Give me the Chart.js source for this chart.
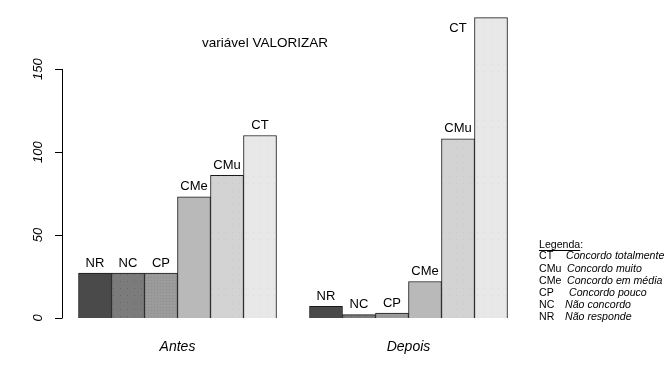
<!DOCTYPE html>
<html>
<head>
<meta charset="utf-8">
<script src="https://cdn.jsdelivr.net/npm/chart.js@4"></script>
<style>
  html, body { margin: 0; padding: 0; background: #fff; }
  #wrap { width: 669px; height: 377px; }
</style>
</head>
<body>
<div id="wrap"><canvas id="chart" width="669" height="377"></canvas></div>
<script>
// data
const categories = ['NR', 'NC', 'CP', 'CMe', 'CMu', 'CT'];
const groups = ['Antes', 'Depois'];
const antes = [27, 27, 27, 73, 86, 110];
const depois = [7, 2, 3, 22, 108, 181];
const yTicks = [0, 50, 100, 150];
const legendCodes = ['CT', 'CMu', 'CMe', 'CP', 'NC', 'NR'];
const legendText = ['Concordo totalmente', 'Concordo muito', 'Concordo em média', 'Concordo pouco', 'Não concordo', 'Não responde'];

const greys = ['#4a4a4a', '#7b7b7b', '#9b9b9b', '#b9b9b9', '#d3d3d3', '#e8e8e8'];
const FONT = '"Liberation Sans", Arial, sans-serif';

// light stipple like the R output
function dotted(base, dot, step) {
  const c = document.createElement('canvas');
  c.width = step; c.height = step;
  const g = c.getContext('2d');
  g.fillStyle = base; g.fillRect(0, 0, step, step);
  g.fillStyle = dot; g.fillRect(1, 1, 1, 1);
  return g.createPattern(c, 'repeat');
}
const ctx = document.getElementById('chart').getContext('2d');
const fills = [
  greys[0],
  dotted(greys[1], '#666666', 7),
  dotted(greys[2], '#8e8e8e', 3),
  greys[3],
  dotted(greys[4], '#c8c8c8', 7),
  dotted(greys[5], '#dcdcdc', 7)
];

// bar slots: group 1 at 0..5, gap, group 2 at 7..12
const points = [];
const colors = [];
const names = [];
antes.forEach((v, i) => { points.push({x: i, y: v}); colors.push(fills[i]); names.push(categories[i]); });
depois.forEach((v, i) => { points.push({x: i + 7, y: v}); colors.push(fills[i]); names.push(categories[i]); });

const decor = {
  id: 'decor',
  afterDatasetsDraw(chart) {
    const c = chart.ctx;
    const xs = chart.scales.x, ys = chart.scales.y;
    const area = chart.chartArea;
    c.save();
    c.fillStyle = '#000';
    c.strokeStyle = '#000';

    // labels over bars
    c.font = '13px ' + FONT;
    c.textAlign = 'center';
    c.textBaseline = 'middle';
    chart.getDatasetMeta(0).data.forEach((el, i) => {
      let lx = el.x, ly = el.y - 10;
      if (ly < area.top + 20) { lx = el.x - 33; ly = el.y + 11; }
      c.fillText(names[i], lx, ly);
    });

    // y axis
    const ax = area.left;
    c.lineWidth = 1;
    c.beginPath();
    c.moveTo(ax + 0.5, ys.getPixelForValue(yTicks[0]));
    c.lineTo(ax + 0.5, ys.getPixelForValue(yTicks[yTicks.length - 1]));
    yTicks.forEach(t => {
      const py = Math.round(ys.getPixelForValue(t)) + 0.5;
      c.moveTo(ax + 0.5, py);
      c.lineTo(ax - 7, py);
    });
    c.stroke();
    c.font = 'italic 13px ' + FONT;
    yTicks.forEach(t => {
      c.save();
      c.translate(ax - 24, ys.getPixelForValue(t));
      c.rotate(-Math.PI / 2);
      c.fillText(String(t), 0, 0);
      c.restore();
    });

    // group names
    c.font = 'italic 14px ' + FONT;
    c.fillText(groups[0], xs.getPixelForValue(2.5), 347);
    c.fillText(groups[1], xs.getPixelForValue(9.5), 347);

    // title
    c.font = '13.5px ' + FONT;
    c.fillText('variável VALORIZAR', 265, 43);

    // legend
    c.textAlign = 'left';
    c.font = '10.6px ' + FONT;
    c.fillText('Legenda:', 539, 245);
    const w = c.measureText('Legenda').width;
    c.beginPath();
    c.moveTo(539, 250.5);
    c.lineTo(539 + w, 250.5);
    c.stroke();
    const descX = [566, 567, 567, 569, 565, 565];
    legendCodes.forEach((code, i) => {
      const ly = 256.5 + i * 12.1;
      c.font = '10.6px ' + FONT;
      c.fillText(code, 539, ly);
      c.font = 'italic 10.6px ' + FONT;
      c.fillText(legendText[i], descX[i], ly);
    });
    c.restore();
  }
};

new Chart(ctx, {
  type: 'bar',
  data: {
    datasets: [{
      data: points,
      backgroundColor: colors,
      borderColor: '#1a1a1a',
      borderWidth: 1,
      barPercentage: 1,
      categoryPercentage: 1
    }]
  },
  options: {
    responsive: false,
    animation: false,
    layout: { padding: { left: 62, right: 145, top: 11, bottom: 59 } },
    plugins: { legend: { display: false }, tooltip: { enabled: false } },
    scales: {
      x: { type: 'linear', min: -1, max: 13, offset: false, display: false, ticks: { stepSize: 1 }, grid: { display: false } },
      y: { min: 0, max: 185, display: false, grid: { display: false } }
    }
  },
  plugins: [decor]
});
</script>
</body>
</html>
